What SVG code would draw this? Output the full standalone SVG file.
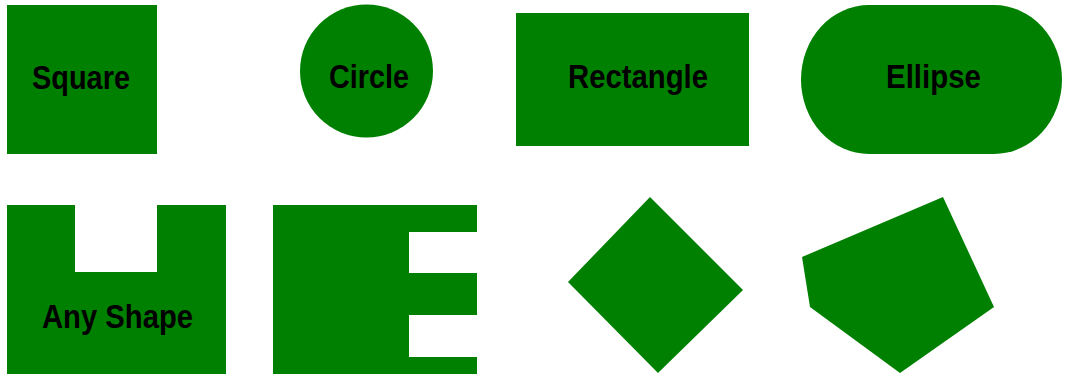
<svg xmlns="http://www.w3.org/2000/svg" width="1065" height="378" viewBox="0 0 1065 378">
<style>
.s{fill:#008000;}
.t{font-family:"Liberation Sans",Arial,sans-serif;font-weight:bold;font-size:33px;fill:#000;text-anchor:middle;}
</style>
<rect width="1065" height="378" fill="#fff"/>
<g id="square"><rect class="s" x="7" y="5" width="150" height="149"/><text class="t" x="81" y="89" textLength="98" lengthAdjust="spacingAndGlyphs">Square</text></g>
<g id="circle"><circle class="s" cx="366.5" cy="71" r="66.5"/><text class="t" x="369" y="88" textLength="80" lengthAdjust="spacingAndGlyphs">Circle</text></g>
<g id="rectangle"><rect class="s" x="516" y="13" width="233" height="133"/><text class="t" x="638" y="88" textLength="140" lengthAdjust="spacingAndGlyphs">Rectangle</text></g>
<g id="ellipse"><rect class="s" x="801" y="5" width="261" height="149" rx="68" ry="74.5"/><text class="t" x="933.5" y="88" textLength="95" lengthAdjust="spacingAndGlyphs">Ellipse</text></g>
<g id="anyshape"><path class="s" d="M7,205 H75 V272 H157 V205 H226 V374 H7 Z"/><text class="t" x="117.5" y="328" textLength="151" lengthAdjust="spacingAndGlyphs">Any Shape</text></g>
<g id="eshape"><path class="s" d="M273,205 H477 V232 H409 V273 H477 V315 H409 V357 H477 V374 H273 Z"/></g>
<g id="diamond"><polygon class="s" points="650,197 743,290 658,373 568,282"/></g>
<g id="pentagon"><polygon class="s" points="802,257 943,197 994,307 900,373 810,307"/></g>
<g id="connectors"/>
</svg>
